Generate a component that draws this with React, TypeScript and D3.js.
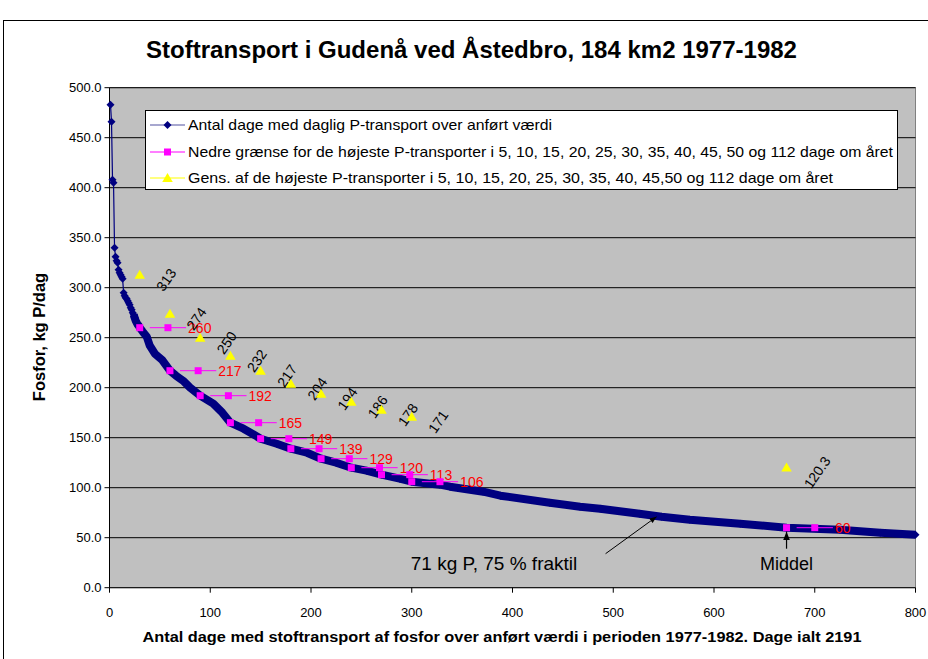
import React from 'react';
import * as d3 from 'd3';

// ---- data ----
const curveDays = [1, 2, 3, 4, 5, 6, 7, 8, 9, 10, 11, 12, 13, 14, 15, 16, 17, 18, 19, 20, 21, 22, 23, 24, 25, 26, 27, 28, 29,
  30, 33, 37, 40, 45, 52, 60, 66, 73, 80, 90, 103, 112, 120, 133, 140, 150, 166, 180, 196, 210, 225, 240, 255, 270, 288, 300,
  328, 338, 371, 388, 437, 467, 487, 526, 548, 576, 626, 672, 725, 765, 800];
const curveValues = [483, 466, 408, 405, 340, 331, 327, 325, 318, 315, 313, 311, 309, 295, 292, 290, 289, 287, 285, 283, 280, 278, 275, 273, 270, 267, 265, 263, 262,
  260, 256, 251, 242, 234, 228, 217, 212, 207, 200, 192, 184, 175, 165, 159, 155, 149, 144, 139, 135, 129, 125, 120, 117, 113, 109, 106,
  103, 101, 96, 92, 85, 81, 79, 74, 71, 68, 64, 60, 58, 55, 53];

const limitDays = [30, 60, 90, 120, 150, 180, 210, 240, 270, 300, 672];
const limitEndDays = [58, 88, 118, 148, 178, 208, 238, 268, 298, 328, 700];
const limitValues = [260, 217, 192, 165, 149, 139, 129, 120, 113, 106, 60];
const limitBarHalfDays = 18;

const meanDays = [30, 60, 90, 120, 150, 180, 210, 240, 270, 300, 672];
const meanValues = [313, 274, 250, 232, 217, 204, 194, 186, 178, 171, 120.3];

const yTicks = [0, 50, 100, 150, 200, 250, 300, 350, 400, 450, 500];
const xTicks = [0, 100, 200, 300, 400, 500, 600, 700, 800];

const legendLabels = [
  'Antal dage med daglig P-transport over anført værdi',
  'Nedre grænse for de højeste P-transporter i 5, 10, 15, 20, 25, 30, 35, 40, 45, 50 og 112 dage om året',
  'Gens. af de højeste P-transporter i 5, 10, 15, 20, 25, 30, 35, 40, 45,50 og 112 dage om året',
];
const legendWidths = [364, 705, 645];

const titleText = 'Stoftransport i Gudenå ved Åstedbro, 184 km2 1977-1982';
const xTitle = 'Antal dage med stoftransport af fosfor over anført værdi i perioden 1977-1982. Dage ialt 2191';
const yTitle = 'Fosfor, kg P/dag';
const fraktilDay = 543;
const fraktilValue = 71;
const fraktilText = '71 kg P, 75 % fraktil';
const middelDay = 672;
const middelValue = 60;
const middelText = 'Middel';

const FONT = 'Liberation Sans, Arial, Helvetica, sans-serif';
const NAVY = '#000080';
const MAGENTA = '#FF00FF';
const YELLOW = '#FFFF00';

const diamondPath = (s: number) => `M0,${-s}L${s},0L0,${s}L${-s},0Z`;
const squarePath = (s: number) => `M${-s},${-s}H${s}V${s}H${-s}Z`;
const trianglePath = (s: number) => `M0,${-s}L${s * 1.05},${s * 0.8}L${-s * 1.05},${s * 0.8}Z`;

export default function App() {
  const W = 928, H = 659;
  const x = d3.scaleLinear().domain([0, 800]).range([109.5, 915.5]);
  const y = d3.scaleLinear().domain([0, 500]).range([587.7, 87.7]);
  const pts: [number, number][] = curveDays.map((d, i) => [d, curveValues[i]]);
  const line = d3.line<[number, number]>().x(d => x(d[0])).y(d => y(d[1]));
  const thinPath = line(pts) || '';
  const bandPath = line(pts.filter(p => p[0] >= 24)) || '';
  const [x0, x1] = x.range();
  const [yb, yt] = y.range();

  const fmt = (v: number) => (Number.isInteger(v) ? String(v) : v.toFixed(1));
  const angle = 55;
  const rad = (angle * Math.PI) / 180;

  return (
    <svg width={W} height={H} style={{ position: 'absolute', left: 0, top: 0, background: '#fff' }} fontFamily={FONT}>
      <defs>
        <marker id="ah" viewBox="0 0 10 10" refX="10" refY="5" markerWidth="7" markerHeight="7" orient="auto">
          <path d="M0,1L10,5L0,9Z" fill="#000" />
        </marker>
      </defs>
      <rect x={0} y={0} width={W} height={H} fill="#fff" />
      <rect x={3.5} y={20.5} width={940} height={660} fill="#fff" stroke="#000" strokeWidth={1} />

      {/* title */}
      <text x={471.5} y={58} textAnchor="middle" fontWeight="bold" fontSize={24}>{titleText}</text>

      {/* plot area */}
      <rect x={x0} y={yt} width={x1 - x0} height={yb - yt} fill="#C0C0C0" stroke="#808080" strokeWidth={1} />
      {yTicks.filter(t => t > 0).map(t => (
        <line key={'g' + t} x1={x0} x2={x1} y1={y(t)} y2={y(t)} stroke="#000" strokeWidth={1} />
      ))}

      {/* y axis */}
      <line x1={x0} x2={x0} y1={yt} y2={yb} stroke="#000" />
      {yTicks.map(t => (
        <g key={'y' + t}>
          <line x1={x0 - 5} x2={x0} y1={y(t)} y2={y(t)} stroke="#000" />
          <text x={x0 - 8} y={y(t) + 4.5} textAnchor="end" fontSize={13}>{t.toFixed(1)}</text>
        </g>
      ))}
      {/* x axis */}
      <line x1={x0} x2={x1} y1={yb} y2={yb} stroke="#000" />
      {xTicks.map(t => (
        <g key={'x' + t}>
          <line x1={x(t)} x2={x(t)} y1={yb} y2={yb + 5} stroke="#000" />
          <text x={x(t)} y={617} textAnchor="middle" fontSize={13}>{t}</text>
        </g>
      ))}

      <text x={502} y={642} textAnchor="middle" fontWeight="bold" fontSize={14} textLength={719} lengthAdjust="spacingAndGlyphs">{xTitle}</text>
      <text transform={`translate(45,337) rotate(-90)`} textAnchor="middle" fontWeight="bold" fontSize={16.5}>{yTitle}</text>

      {/* curve */}
      <path d={thinPath} fill="none" stroke={NAVY} strokeWidth={1.2} />
      <path d={bandPath} fill="none" stroke={NAVY} strokeWidth={8} strokeLinejoin="round" />
      {pts.map((p, i) => (
        <path key={'c' + i} d={diamondPath(4)} transform={`translate(${x(p[0])},${y(p[1])})`} fill={NAVY} />
      ))}

      {/* lower limits */}
      {limitDays.map((d, i) => {
        const yy = y(limitValues[i]);
        const xe = x(limitEndDays[i]);
        return (
          <g key={'l' + i}>
            <line x1={x(limitEndDays[i] - limitBarHalfDays)} x2={x(limitEndDays[i] + limitBarHalfDays)} y1={yy} y2={yy} stroke={MAGENTA} strokeWidth={1} />
            <path d={squarePath(3.5)} transform={`translate(${x(d)},${yy})`} fill={MAGENTA} />
            <path d={squarePath(3.5)} transform={`translate(${xe},${yy})`} fill={MAGENTA} />
            <text x={x(limitEndDays[i] + limitBarHalfDays) + 2} y={yy + 5} fontSize={14} fill="#FF0000">{limitValues[i]}</text>
          </g>
        );
      })}

      {/* means */}
      {meanDays.map((d, i) => {
        const xx = x(d), yy = y(meanValues[i]);
        const label = fmt(meanValues[i]);
        const L = label.length * 7.3;
        const w = L * Math.cos(rad) + 10 * Math.sin(rad);
        return (
          <g key={'m' + i}>
            <path d={trianglePath(5)} transform={`translate(${xx},${yy})`} fill={YELLOW} />
            <text transform={`translate(${xx + 16 + w / 2},${yy + 5}) rotate(${-angle})`} textAnchor="middle" dominantBaseline="central" fontSize={14}>{label}</text>
          </g>
        );
      })}

      {/* annotations */}
      <line x1={x(fraktilDay) - 51} y1={y(fraktilValue) + 37} x2={x(fraktilDay)} y2={y(fraktilValue)} stroke="#000" strokeWidth={1} markerEnd="url(#ah)" />
      <text x={494} y={570} textAnchor="middle" fontSize={19}>{fraktilText}</text>
      <line x1={x(middelDay)} y1={y(middelValue) + 21} x2={x(middelDay)} y2={y(middelValue) + 4} stroke="#000" strokeWidth={1.2} markerEnd="url(#ah)" />
      <text x={x(middelDay)} y={570} textAnchor="middle" fontSize={18}>{middelText}</text>

      {/* legend */}
      <rect x={145.5} y={110.5} width={752} height={79} fill="#fff" stroke="#000" strokeWidth={1} />
      {legendLabels.map((lab, i) => {
        const yy = [125, 152, 178][i];
        const col = [NAVY, MAGENTA, YELLOW][i];
        const mk = [diamondPath(4), squarePath(3.5), trianglePath(5)][i];
        return (
          <g key={'lg' + i}>
            <line x1={150} x2={185} y1={yy} y2={yy} stroke={i === 0 ? '#5050A0' : col} strokeWidth={1.2} />
            <path d={mk} transform={`translate(167.5,${yy})`} fill={col} />
            <text x={188} y={yy + 5} fontSize={15} textLength={legendWidths[i]} lengthAdjust="spacingAndGlyphs">{lab}</text>
          </g>
        );
      })}
    </svg>
  );
}
